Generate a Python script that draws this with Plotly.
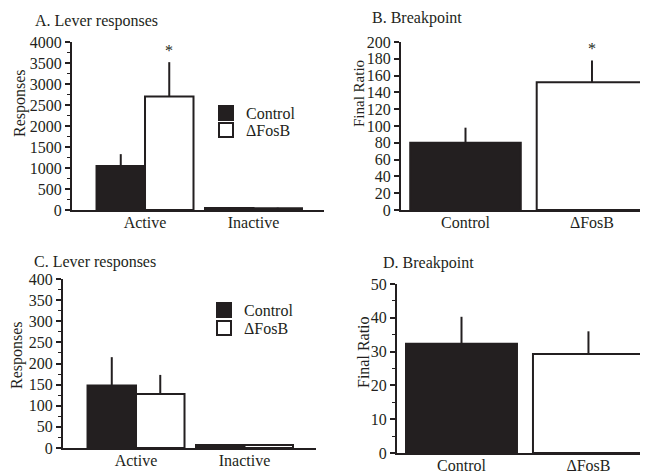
import plotly.graph_objects as go

# ---- data ----
lever_categories = ["Active", "Inactive"]
groups = ["Control", "ΔFosB"]

a_control = [1050, 45]
a_control_err = [280, 15]
a_fosb = [2700, 40]
a_fosb_err = [820, 15]

b_values = [80, 152]
b_err = [18, 26]

c_control = [148, 7]
c_control_err = [67, 2]
c_fosb = [128, 7]
c_fosb_err = [45, 2]

d_values = [32.3, 29.3]
d_err = [8, 6.7]

INK = "#231f20"
FONT = "Liberation Serif, Times New Roman, Times, serif"
PAGE_W, PAGE_H = 648, 473
OFF = 8                      # default page margin around the plot div
W, H = PAGE_W - OFF, PAGE_H - OFF

def px_x(p):
    return (p - OFF) / W

def px_y(p):
    return (PAGE_H - p) / H

fig = go.Figure()

err_style = dict(type="data", symmetric=False, width=0, thickness=2, color=INK)
fills = [INK, "white"]

# Panel A
fig.add_trace(go.Bar(x=lever_categories, y=a_control, name=groups[0], showlegend=False,
                     marker=dict(color=fills[0], line=dict(color=INK, width=2)),
                     error_y=dict(array=a_control_err, arrayminus=[0, 0], **err_style),
                     xaxis="x", yaxis="y", offsetgroup="c"))
fig.add_trace(go.Bar(x=lever_categories, y=a_fosb, name=groups[1], showlegend=False,
                     marker=dict(color=fills[1], line=dict(color=INK, width=2)),
                     error_y=dict(array=a_fosb_err, arrayminus=[0, 0], **err_style),
                     xaxis="x", yaxis="y", offsetgroup="f"))

# Panel B
fig.add_trace(go.Bar(x=groups, y=b_values, width=0.874, showlegend=False,
                     marker=dict(color=fills, line=dict(color=INK, width=2)),
                     error_y=dict(array=b_err, arrayminus=[0, 0], **err_style),
                     xaxis="x2", yaxis="y2"))

# Panel C
fig.add_trace(go.Bar(x=lever_categories, y=c_control, name=groups[0], showlegend=False,
                     marker=dict(color=fills[0], line=dict(color=INK, width=2)),
                     error_y=dict(array=c_control_err, arrayminus=[0, 0], **err_style),
                     xaxis="x3", yaxis="y3", offsetgroup="c"))
fig.add_trace(go.Bar(x=lever_categories, y=c_fosb, name=groups[1], showlegend=False,
                     marker=dict(color=fills[1], line=dict(color=INK, width=2)),
                     error_y=dict(array=c_fosb_err, arrayminus=[0, 0], **err_style),
                     xaxis="x3", yaxis="y3", offsetgroup="f"))

# Panel D
fig.add_trace(go.Bar(x=groups, y=d_values, width=0.874, showlegend=False,
                     marker=dict(color=fills, line=dict(color=INK, width=2)),
                     error_y=dict(array=d_err, arrayminus=[0, 0], **err_style),
                     xaxis="x4", yaxis="y4"))

# Legend keys (one legend per entry so spacing can match the reference)
legend_specs = [("legend", "x", "y", 0), ("legend2", "x", "y", 1),
                ("legend3", "x3", "y3", 0), ("legend4", "x3", "y3", 1)]
for lg, xa, ya, gi in legend_specs:
    fig.add_trace(go.Scatter(x=[None], y=[None], mode="markers", name=groups[gi],
                             marker=dict(symbol="square", size=14, color=fills[gi],
                                         line=dict(color=INK, width=2)),
                             xaxis=xa, yaxis=ya, legend=lg, showlegend=True,
                             hoverinfo="skip"))

tickfont = dict(family=FONT, size=16, color=INK)

def xax(domain, rng, anchor):
    return dict(domain=domain, range=rng, anchor=anchor, showline=True, linewidth=2,
                linecolor=INK, ticks="", showgrid=False, zeroline=False,
                tickfont=tickfont, ticklabelstandoff=-3, automargin=False,
                fixedrange=True)

def yax(domain, rng, dtick, minor_dtick, anchor):
    d = dict(domain=domain, range=rng, anchor=anchor, showline=True, linewidth=2,
             linecolor=INK, ticks="outside", ticklen=5, tickwidth=1.5, tickcolor=INK,
             dtick=dtick, showgrid=False, zeroline=False, tickfont=tickfont,
             automargin=False, fixedrange=True)
    if minor_dtick:
        d["minor"] = dict(dtick=minor_dtick, ticks="outside", ticklen=3, tickwidth=1,
                          tickcolor=INK, showgrid=False)
    return d

def legend_at(xp, yp):
    return dict(x=px_x(xp), y=px_y(yp), xanchor="left", yanchor="middle",
                font=dict(family=FONT, size=16, color=INK), bgcolor="rgba(0,0,0,0)",
                itemsizing="trace", itemclick=False, itemdoubleclick=False)

fig.update_layout(
    template="none",
    width=W, height=H,
    margin=dict(l=0, r=0, t=0, b=0, autoexpand=False),
    paper_bgcolor="white", plot_bgcolor="white",
    barmode="group", bargap=0.106, bargroupgap=0,
    font=dict(family=FONT, size=16, color=INK),
    xaxis=xax([px_x(72), px_x(324)], [-0.673, 1.65], "y"),
    yaxis=yax([px_y(210), px_y(42)], [0, 4000], 500, 250, "x"),
    xaxis2=xax([px_x(401), 1.0], [-0.51, 1.443], "y2"),
    yaxis2=yax([px_y(210), px_y(42)], [0, 200], 20, None, "x2"),
    xaxis3=xax([px_x(63), px_x(316)], [-0.673, 1.659], "y3"),
    yaxis3=yax([px_y(448), px_y(279)], [0, 400], 50, 25, "x3"),
    xaxis4=xax([px_x(397), 1.0], [-0.508, 1.469], "y4"),
    yaxis4=yax([px_y(453), px_y(284)], [0, 50], 10, 5, "x4"),
    legend=legend_at(206, 113),
    legend2=legend_at(206, 130),
    legend3=legend_at(204, 310),
    legend4=legend_at(204, 328),
    showlegend=True,
)

titles = [("A. Lever responses", 33, 21), ("B. Breakpoint", 370, 18),
          ("C. Lever responses", 32, 262), ("D. Breakpoint", 381, 263)]
for text, xp, yp in titles:
    fig.add_annotation(text=text, xref="paper", yref="paper", x=px_x(xp), y=px_y(yp),
                       xanchor="left", yanchor="middle", showarrow=False,
                       font=dict(family=FONT, size=16, color=INK))

# y-axis titles
ytitles = [("Responses", 20, 103, 16), ("Final Ratio", 359, 94, 15),
           ("Responses", 17, 355, 16), ("Final Ratio", 363, 352, 16)]
for text, xp, yp, sz in ytitles:
    fig.add_annotation(text=text, xref="paper", yref="paper", x=px_x(xp), y=px_y(yp),
                       xanchor="center", yanchor="middle", textangle=-90,
                       showarrow=False, font=dict(family=FONT, size=sz, color=INK))

# significance asterisks
fig.add_annotation(text="*", xref="x", yref="y", x=(1 - 0.106) / 4,
                   y=a_fosb[0] + a_fosb_err[0], yshift=12, showarrow=False,
                   font=dict(family=FONT, size=16, color=INK))
fig.add_annotation(text="*", xref="x2", yref="y2", x=1,
                   y=b_values[1] + b_err[1], yshift=12, showarrow=False,
                   font=dict(family=FONT, size=16, color=INK))

fig.write_html("out.html")
